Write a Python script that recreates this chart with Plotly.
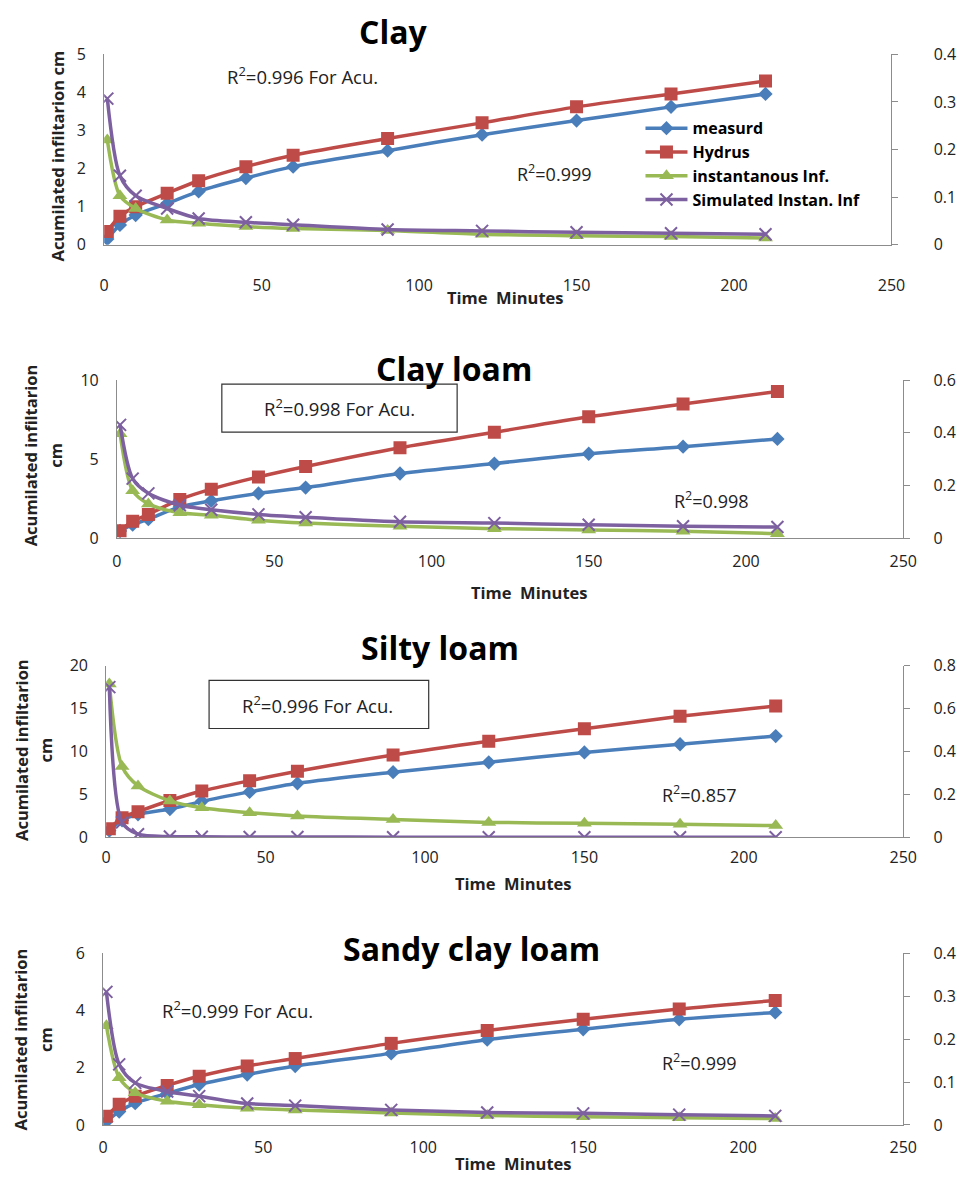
import plotly.graph_objects as go

# ---------------- data ----------------
time_min = [1, 5, 10, 20, 30, 45, 60, 90, 120, 150, 180, 210]

clay_measured = [0.15, 0.52, 0.78, 1.08, 1.40, 1.75, 2.05, 2.47, 2.89, 3.26, 3.62, 3.96]
clay_hydrus = [0.35, 0.75, 1.00, 1.35, 1.68, 2.05, 2.35, 2.79, 3.20, 3.62, 3.96, 4.30]
clay_inst = [0.220, 0.103, 0.076, 0.052, 0.045, 0.038, 0.034, 0.030, 0.022, 0.019, 0.017, 0.014]
clay_sim = [0.307, 0.145, 0.103, 0.076, 0.055, 0.047, 0.042, 0.032, 0.029, 0.026, 0.024, 0.022]

clayloam_measured = [0.45, 0.85, 1.20, 1.98, 2.36, 2.83, 3.20, 4.09, 4.72, 5.34, 5.79, 6.28]
clayloam_hydrus = [0.47, 1.07, 1.50, 2.45, 3.10, 3.87, 4.53, 5.72, 6.70, 7.68, 8.49, 9.28]
clayloam_inst = [0.396, 0.180, 0.130, 0.096, 0.087, 0.068, 0.057, 0.045, 0.036, 0.031, 0.026, 0.017]
clayloam_sim = [0.430, 0.226, 0.170, 0.125, 0.108, 0.090, 0.079, 0.062, 0.057, 0.051, 0.045, 0.042]

siltyloam_measured = [0.8, 2.0, 2.7, 3.3, 4.2, 5.3, 6.3, 7.6, 8.75, 9.9, 10.85, 11.8]
siltyloam_hydrus = [1.0, 2.3, 3.0, 4.3, 5.4, 6.6, 7.7, 9.6, 11.2, 12.65, 14.1, 15.3]
siltyloam_inst = [0.715, 0.330, 0.240, 0.170, 0.138, 0.115, 0.100, 0.084, 0.070, 0.066, 0.061, 0.055]
siltyloam_sim = [0.700, 0.070, 0.015, 0.004, 0.003, 0.002, 0.002, 0.001, 0.001, 0.001, 0.001, 0.001]

sandy_measured = [0.12, 0.47, 0.76, 1.10, 1.41, 1.76, 2.06, 2.50, 2.98, 3.34, 3.69, 3.93]
sandy_hydrus = [0.30, 0.72, 1.00, 1.38, 1.70, 2.06, 2.32, 2.85, 3.30, 3.69, 4.05, 4.35]
sandy_inst = [0.231, 0.110, 0.075, 0.055, 0.047, 0.039, 0.035, 0.028, 0.022, 0.019, 0.017, 0.015]
sandy_sim = [0.310, 0.141, 0.098, 0.078, 0.067, 0.050, 0.045, 0.035, 0.029, 0.027, 0.024, 0.021]

series_names = ["measurd", "Hydrus", "instantanous Inf.", "Simulated Instan. Inf"]
panel_titles = ["Clay", "Clay loam", "Silty loam", "Sandy clay loam"]
acu_labels = ["R<sup>2</sup>=0.996 For Acu.", "R<sup>2</sup>=0.998 For Acu.",
              "R<sup>2</sup>=0.996 For Acu.", "R<sup>2</sup>=0.999 For Acu."]
inst_labels = ["R<sup>2</sup>=0.999", "R<sup>2</sup>=0.998", "R<sup>2</sup>=0.857", "R<sup>2</sup>=0.999"]

panel_data = [
    (clay_measured, clay_hydrus, clay_inst, clay_sim),
    (clayloam_measured, clayloam_hydrus, clayloam_inst, clayloam_sim),
    (siltyloam_measured, siltyloam_hydrus, siltyloam_inst, siltyloam_sim),
    (sandy_measured, sandy_hydrus, sandy_inst, sandy_sim),
]
left_ranges = [(5, 1), (10, 5), (20, 5), (6, 2)]
right_ranges = [(0.4, 0.1), (0.6, 0.2), (0.8, 0.2), (0.4, 0.1)]
x_max, x_step = 250, 50

# ---------------- layout geometry (pixels) ----------------
W, H = 971, 1177
FONT = "'Open Sans', Lato, sans-serif"


def fx(px):
    return px / W


def fy(py):
    return 1 - py / H


# (x_left, x_right, y_top, y_bottom)
geom = [
    (93, 896, 36, 230),
    (106, 908, 368, 529),
    (95, 908, 659, 834),
    (92, 908, 952, 1127),
]
tick_standoff = [26, 9, 5, 8]
right_standoff = [32, 20, 20, 20]
title_pos = [(388, 13), (450, 356), (436, 640), (468, 947)]
xtitle_pos = [(502, 284), (527, 584), (510, 881), (510, 1166)]
acu_pos = [(295, 58), (333, 396), (311, 699), (229, 1009)]
acu_box = [None, (213, 453, 372, 421), (200, 424, 674, 723), None]
inst_pos = [(552, 157), (712, 490), (700, 790), (700, 1063)]
ytitle_pos = [[(45, 140)], [(18, 445), (44, 445)], [(8, 745), (33, 745)], [(8, 1040), (33, 1040)]]
ytitle_txt = [["Acumilated infiltarion cm"], ["Acumilated infiltarion", "cm"],
              ["Acumilated infiltarion", "cm"], ["Acumilated infiltarion", "cm"]]

line_colors = ["#4A7EBB", "#BE4B48", "#98B954", "#7D60A0"]
marker_symbols = ["diamond", "square", "triangle-up", "x-thin"]
marker_sizes = [11, 13, 13, 12]

fig = go.Figure()
layout = dict(
    width=W, height=H, autosize=False,
    margin=dict(l=0, r=0, t=0, b=0),
    paper_bgcolor="white", plot_bgcolor="white",
    font=dict(family=FONT, size=16, color="#222222"),
    showlegend=True,
    legend=dict(x=fx(640), y=fy(94), xanchor="left", yanchor="top",
                bgcolor="rgba(0,0,0,0)", font=dict(size=16, color="black", weight="bold"),
                itemwidth=42, tracegroupgap=0),
)
annotations = []
shapes = []

for i in range(4):
    xl, xr, yt, yb = geom[i]
    xa = f"xaxis{i + 1 if i else ''}"
    ly = 2 * i + 1
    ry = 2 * i + 2
    lya = f"yaxis{ly if ly > 1 else ''}"
    rya = f"yaxis{ry}"
    xref = f"x{i + 1 if i else ''}"
    lyref = f"y{ly if ly > 1 else ''}"
    ryref = f"y{ry}"

    layout[xa] = dict(domain=[fx(xl), fx(xr)], anchor=lyref, range=[0, x_max], dtick=x_step,
                      tick0=0, showgrid=False, zeroline=False, showline=True,
                      linecolor="#8C8C8C", linewidth=1, ticks="", ticklabelstandoff=tick_standoff[i],
                      tickfont=dict(size=16, color="#222222"), fixedrange=True)
    lmax, lstep = left_ranges[i]
    layout[lya] = dict(domain=[fy(yb), fy(yt)], anchor=xref, range=[0, lmax], dtick=lstep, tick0=0,
                       showgrid=False, zeroline=False, showline=True, linecolor="#8C8C8C",
                       linewidth=1, ticks="", ticklabelstandoff=14,
                       tickfont=dict(size=16, color="#222222"))
    rmax, rstep = right_ranges[i]
    layout[rya] = dict(overlaying=lyref, side="right", anchor=xref, range=[0, rmax], dtick=rstep,
                       tick0=0, showgrid=False, zeroline=False, showline=True, linecolor="#8C8C8C",
                       linewidth=1, ticks="outside", ticklen=6, tickcolor="#8C8C8C",
                       ticklabelstandoff=right_standoff[i], tickfont=dict(size=16, color="#222222"))

    vals = panel_data[i]
    for k in range(4):
        on_right = k >= 2
        sym = marker_symbols[k]
        if sym == "x-thin":
            marker = dict(symbol=sym, size=marker_sizes[k], color=line_colors[k],
                          line=dict(width=2, color=line_colors[k]))
        else:
            marker = dict(symbol=sym, size=marker_sizes[k], color=line_colors[k],
                          line=dict(width=0))
        fig.add_trace(go.Scatter(
            x=time_min, y=vals[k], name=series_names[k], mode="lines+markers",
            line=dict(color=line_colors[k], width=3.5, shape="spline", smoothing=0.8),
            marker=marker, xaxis=xref, yaxis=ryref if on_right else lyref,
            showlegend=(i == 0), legendgroup=f"g{k}", cliponaxis=True,
        ))

    # panel title
    tx, ty = title_pos[i]
    annotations.append(dict(x=fx(tx), y=fy(ty), xref="paper", yref="paper", showarrow=False,
                            text=f"<b>{panel_titles[i]}</b>", font=dict(size=32, color="black"),
                            xanchor="center", yanchor="middle"))
    # x axis title
    tx, ty = xtitle_pos[i]
    annotations.append(dict(x=fx(tx), y=fy(ty), xref="paper", yref="paper", showarrow=False,
                            text="<b>Time  Minutes</b>", font=dict(size=16.5, color="#222222"),
                            xanchor="center", yanchor="middle"))
    # y axis title(s)
    for (px, py), t in zip(ytitle_pos[i], ytitle_txt[i]):
        annotations.append(dict(x=fx(px), y=fy(py), xref="paper", yref="paper", showarrow=False,
                                text=f"<b>{t}</b>", textangle=-90, font=dict(size=16.5, color="#222222"),
                                xanchor="center", yanchor="middle"))
    # R2 labels
    tx, ty = acu_pos[i]
    annotations.append(dict(x=fx(tx), y=fy(ty), xref="paper", yref="paper", showarrow=False,
                            text=acu_labels[i], font=dict(size=18.5, color="#222222"),
                            xanchor="center", yanchor="middle"))
    if acu_box[i]:
        bx0, bx1, by0, by1 = acu_box[i]
        shapes.append(dict(type="rect", xref="paper", yref="paper", x0=fx(bx0), x1=fx(bx1),
                           y0=fy(by1), y1=fy(by0), line=dict(color="#333333", width=1.2)))
    tx, ty = inst_pos[i]
    annotations.append(dict(x=fx(tx), y=fy(ty), xref="paper", yref="paper", showarrow=False,
                            text=inst_labels[i], font=dict(size=18, color="#222222"),
                            xanchor="center", yanchor="middle"))

layout["annotations"] = annotations
layout["shapes"] = shapes
fig.update_layout(**layout)
fig.write_html("out.html")
